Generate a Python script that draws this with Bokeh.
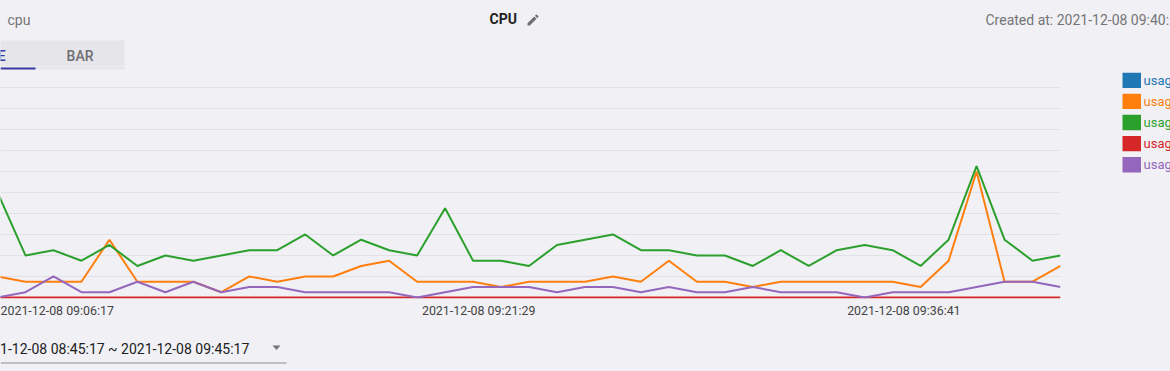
import pandas as pd
from bokeh.plotting import figure
from bokeh.layouts import column, row
from bokeh.models import (ColumnDataSource, FixedTicker, DatetimeTickFormatter, Label,
                          BoxAnnotation, PolyAnnotation, Range1d, Grid,
                          GlobalInlineStyleSheet)
from bokeh.embed import file_html
from bokeh.resources import INLINE

# ---------------- data ----------------
DAY = "2021-12-08 "
times = ["09:04:17", "09:05:17", "09:06:17", "09:07:17", "09:08:17", "09:09:17", "09:10:17",
         "09:11:17", "09:12:17", "09:13:17", "09:14:17", "09:15:17", "09:16:17", "09:17:17",
         "09:18:17", "09:19:17", "09:20:17", "09:21:17", "09:22:17", "09:23:17", "09:24:17",
         "09:25:17", "09:26:17", "09:27:17", "09:28:17", "09:29:17", "09:30:17", "09:31:17",
         "09:32:17", "09:33:17", "09:34:17", "09:35:17", "09:36:17", "09:37:17", "09:38:17",
         "09:39:17", "09:40:17", "09:41:17", "09:42:17"]

usage_system = [1.0, 0.75, 0.75, 0.75, 2.75, 0.75, 0.75, 0.75, 0.25, 1.0, 0.75, 1.0, 1.0,
                1.5, 1.75, 0.75, 0.75, 0.75, 0.5, 0.75, 0.75, 0.75, 1.0, 0.75, 1.75, 0.75,
                0.75, 0.5, 0.75, 0.75, 0.75, 0.75, 0.75, 0.5, 1.75, 6.0, 0.75, 0.75, 1.5]
usage_user = [5.0, 2.0, 2.25, 1.75, 2.5, 1.5, 2.0, 1.75, 2.0, 2.25, 2.25, 3.0, 2.0, 2.75,
              2.25, 2.0, 4.25, 1.75, 1.75, 1.5, 2.5, 2.75, 3.0, 2.25, 2.25, 2.0, 2.0, 1.5,
              2.25, 1.5, 2.25, 2.5, 2.25, 1.5, 2.75, 6.25, 2.75, 1.75, 2.0]
usage_steal = [0] * 39
usage_iowait = [0, 0.25, 1.0, 0.25, 0.25, 0.75, 0.25, 0.75, 0.25, 0.5, 0.5, 0.25, 0.25,
                0.25, 0.25, 0.0, 0.25, 0.5, 0.5, 0.5, 0.25, 0.5, 0.5, 0.25, 0.5, 0.25,
                0.25, 0.5, 0.25, 0.25, 0.25, 0.0, 0.25, 0.25, 0.25, 0.5, 0.75, 0.75, 0.5]

# legend entries (the blue one has no visible line in the chart)
legend_names = ["usage_guest", "usage_system", "usage_user", "usage_steal", "usage_iowait"]
legend_colors = ["#1f77b4", "#ff7f0e", "#2ca02c", "#d62728", "#9467bd"]

line_names = ["usage_system", "usage_user", "usage_steal", "usage_iowait"]
line_values = [usage_system, usage_user, usage_steal, usage_iowait]
line_colors = ["#ff7f0e", "#2ca02c", "#d62728", "#9467bd"]

tick_times = ["09:06:17", "09:21:29", "09:36:41"]
y_ticks = [0, 1, 2, 3, 4, 5, 6, 7, 8, 9, 10, 11]

title_text = "CPU"
name_text = "cpu"
created_text = "Created at: 2021-12-08 09:40:58"
range_text = "2021-12-08 08:45:17 ~ 2021-12-08 09:45:17"
tab_labels = ["LINE", "BAR"]

BG = "#f0f0f5"
INDIGO = "#3a3aa5"
DY = -4.5  # baseline correction


def ms(t):
    return pd.Timestamp(DAY + t).value // 10**6


def plain(fig):
    fig.background_fill_color = BG
    fig.border_fill_color = BG
    fig.outline_line_color = None
    return fig


def blank(w, h, y0, y1, x0=0):
    f = figure(width=w, height=h, x_range=Range1d(x0, x0 + w), y_range=Range1d(y0, y1),
               x_axis_location=None, y_axis_location=None, min_border=0,
               output_backend="svg", toolbar_location=None)
    f.xgrid.visible = False
    f.ygrid.visible = False
    return plain(f)


def lab(fig, text, x, y, size="14px", color="#757575", style="normal", align="left",
        font="Roboto"):
    fig.add_layout(Label(x=x, y=y + DY, text=text, text_font=font, text_font_size=size,
                         text_color=color, text_font_style=style, text_align=align,
                         text_baseline="alphabetic"))


def box(fig, l, r, t, b, color):
    fig.add_layout(BoxAnnotation(left=l, right=r, top=t, bottom=b, fill_color=color,
                                 fill_alpha=1, line_color=None))


# ---------------- header (page y 0..66) ----------------
head = blank(1170, 66, 66, 0)
lab(head, name_text, 7, 23.5)
lab(head, title_text, 489, 23.3, color="#222222", style="bold")
lab(head, created_text, 985, 24)
s = 0.611
body = [(3, 17.25), (3, 21), (6.75, 21), (17.81, 9.94), (14.06, 6.19)]
cap = [(20.71, 7.04), (21, 6.33), (20.71, 5.63), (18.37, 3.29), (17.66, 3), (16.96, 3.29),
       (15.13, 5.12), (18.88, 8.87)]
for pts in (body, cap):
    head.add_layout(PolyAnnotation(xs=[527 + (u - 3) * s for u, v in pts],
                                   ys=[14 + (v - 3) * s for u, v in pts],
                                   fill_color="#6f6f6f", fill_alpha=1, line_color=None))
box(head, 0, 124, 40, 66, "#e5e5ea")
lab(head, tab_labels[0], -9.5, 60, color=INDIGO, font="Roboto Medium, Roboto", align="center")
lab(head, tab_labels[1], 79.5, 60, color="#6f6f73", font="Roboto Medium, Roboto",
    align="center")

# ---------------- chart (page y 66..330, x 0..1110) ----------------
data = {"t": [pd.Timestamp(DAY + t) for t in times]}
for n, v in zip(line_names, line_values):
    data[n] = v
src = ColumnDataSource(data)

x_start = ms("09:05:17") - 53600
x_end = ms("09:42:17")

p = figure(width=1110, height=264, x_axis_type="datetime", y_axis_location=None,
           output_backend="svg", toolbar_location=None,
           x_range=Range1d(x_start, x_end), y_range=Range1d(-0.05, 11),
           min_border_left=0, min_border_right=50, min_border_top=0, min_border_bottom=32)
plain(p)
p.xgrid.grid_line_color = None
p.add_layout(Grid(dimension=1, ticker=FixedTicker(ticks=y_ticks),
                  grid_line_color="#e1e1e7", grid_line_width=1))

xa = p.xaxis[0]
xa.ticker = FixedTicker(ticks=[ms(t) for t in tick_times])
fmt = "%Y-%m-%d %H:%M:%S"
xa.formatter = DatetimeTickFormatter(milliseconds=fmt, seconds=fmt, minsec=fmt, minutes=fmt,
                                     hourmin=fmt, hours=fmt, days=fmt, months=fmt, years=fmt)
xa.axis_line_color = None
xa.major_tick_line_color = None
xa.minor_tick_line_color = None
xa.major_tick_out = 0
xa.major_tick_in = 0
xa.minor_tick_out = 0
xa.major_label_standoff = 4
xa.major_label_text_font = "Roboto"
xa.major_label_text_font_size = "12.4px"
xa.major_label_text_color = "#444444"

for n, c in zip(line_names, line_colors):
    p.line("t", n, source=src, line_color=c, line_width=2)

# lower strip of the tab bar and the selected-tab underline (inside the frame top)
p.add_layout(BoxAnnotation(left=0, right=124, top=232, bottom=229,
                           left_units="screen", right_units="screen",
                           top_units="screen", bottom_units="screen",
                           fill_color="#e5e5ea", fill_alpha=1, line_color=None))
p.add_layout(BoxAnnotation(left=0, right=35, top=231, bottom=229,
                           left_units="screen", right_units="screen",
                           top_units="screen", bottom_units="screen",
                           fill_color=INDIGO, fill_alpha=1, line_color=None))

# ---------------- legend (page x 1110..1170, y 66..330) ----------------
lf = blank(60, 264, 330, 66, x0=1110)
for i, (n, c) in enumerate(zip(legend_names, legend_colors)):
    top = 73 + 24 * i
    box(lf, 1122, 1140.5, top, top + 17.5, c)
    lab(lf, n, 1143, top + 13.5, size="13px", color=c)

# ---------------- footer (page y 330..371) ----------------
foot = blank(1170, 41, 371, 330)
lab(foot, range_text, -24, 353.3, color="#212121")
foot.add_layout(PolyAnnotation(xs=[272, 280, 276], ys=[345, 345, 349.5],
                               fill_color="#757575", fill_alpha=1, line_color=None))
box(foot, 0, 286, 362, 363, "#8d8d92")

css = "html, body { margin: 0; padding: 0; overflow: hidden; background: %s; }" % BG
root = column(head, row(p, lf, spacing=0), foot, spacing=0,
              stylesheets=[GlobalInlineStyleSheet(css=css)])

open("out.html", "w").write(file_html(root, INLINE))
